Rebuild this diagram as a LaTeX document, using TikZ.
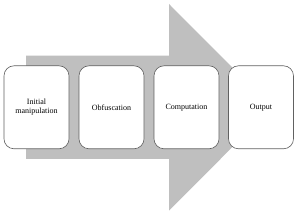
\documentclass[tikz,border=0pt]{standalone}
\usepackage{fontspec}
\setmainfont{Liberation Serif}
\begin{document}
\begin{tikzpicture}[x=1pt,y=1pt,
  stagebox/.style={draw=black!62,fill=white,line width=0.6pt,rounded corners=10pt,
    minimum width=65pt,minimum height=83pt,align=center,font=\fontsize{8}{9.5}\selectfont,inner sep=1pt},
]
\useasboundingbox (0,0) rectangle (300,214);
\fill[black!25] (26,158.3) -- (169,158.3) -- (169,210) -- (272,106.7) -- (169,3.3) -- (169,55) -- (26,55) -- cycle;
\node[stagebox] (init) at (36.5,106.7) {Initial\\manipulation};
\node[stagebox] (obf) at (111.5,106.7) {Obfuscation};
\node[stagebox] (comp) at (186.5,106.7) {Computation};
\node[stagebox] (out) at (261,106.7) {Output};
\end{tikzpicture}
\end{document}
